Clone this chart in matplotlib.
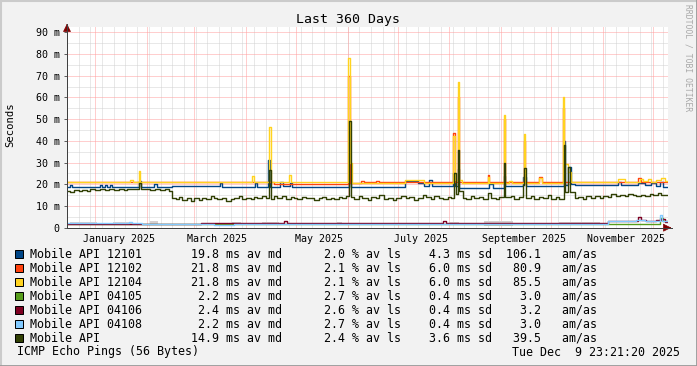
import matplotlib.pyplot as plt
from matplotlib.patches import Rectangle
from matplotlib.lines import Line2D
from datetime import datetime, timedelta

# time range: 360 days up to the render date
end = datetime(2025, 12, 9, 23, 21, 20)
start = end - timedelta(days=360)

# values in ms, x in days since start (step breakpoints)
api_days = [0, 2, 4, 7, 9, 12, 14, 17, 20, 23, 25, 28, 31, 34, 36, 39, 43, 44.5, 47, 50, 53, 56, 59, 61,
            63, 65, 67, 69, 72, 74, 76, 79, 81, 83, 86, 88, 90, 93, 95, 98, 100, 103, 105, 107, 110, 112, 114, 117, 119,
            121, 122, 124, 126, 129, 131, 134, 136, 138, 141, 143, 146, 148, 151, 153, 155, 158, 160, 163, 165, 167,
            169, 170, 172, 175, 177, 180, 182, 185, 187, 190, 192, 195, 197, 200, 203, 205, 208, 210, 213, 215, 218, 220, 223, 225, 228, 230,
            232, 233, 234, 235, 237, 239, 242, 244, 247, 249, 252, 254, 257, 259,
            261.5, 262.5, 266, 268, 271, 273, 274, 275, 278, 280, 283, 285, 288, 290, 293, 295,
            297.5, 298.5, 300, 301, 304, 306, 309, 311, 314, 316, 319, 321, 324, 326, 329, 331, 334, 336, 339, 341, 344, 346, 349, 351, 354, 356, 358, 360]
api_ms = [17.0, 16.4, 17.2, 16.8, 17.4, 16.9, 17.6, 17.2, 17.8, 17.3, 17.9, 17.5, 17.8, 17.4, 17.9, 17.6, 20.6, 17.6, 17.9, 17.3, 18.0, 17.4, 17.8, 16.9,
          13.8, 13.2, 14.0, 12.6, 13.5, 12.4, 13.9, 12.8, 13.6, 13.1, 14.4, 13.6, 13.0, 13.9, 12.5, 13.4, 13.8, 14.6, 13.2, 13.9, 13.4, 14.2, 13.6, 14.8, 13.9,
          26.6, 13.0, 14.8, 13.9, 14.5, 13.2, 14.1, 13.6, 13.1, 14.3, 13.5, 13.9, 12.8, 13.7, 14.2, 13.3, 13.9, 13.0, 14.0, 13.5, 14.4,
          49.0, 14.1, 13.2, 14.5, 13.6, 12.8, 14.0, 13.5, 14.9, 13.3, 13.9, 12.6, 13.8, 14.6, 13.5, 14.3, 12.9, 13.7, 15.1, 14.0, 13.4, 14.6, 13.8, 13.1, 14.2, 13.6,
          25.0, 15.5, 36.0, 17.0, 13.8, 13.1, 14.4, 13.6, 14.0, 13.2, 16.0, 13.9, 13.4, 14.1,
          30.0, 14.0, 14.6, 13.2, 14.0, 19.7, 27.4, 13.8, 14.8, 13.2, 14.3, 13.7, 14.9, 13.4, 14.0, 13.1,
          38.0, 16.6, 28.0, 16.6, 13.5, 14.2, 13.2, 14.6, 13.8, 14.5, 13.9, 14.8, 14.1, 15.3, 14.4, 15.0, 14.6, 15.6, 15.0, 14.5, 15.2, 14.8, 15.4, 14.9, 15.8, 15.1, 14.9, 14.9]

a12101_days = [0, 1.5, 3, 19.5, 21, 22.8, 24, 25.8, 27, 43, 44.5, 52, 54, 63, 91.5, 93, 112.5, 114, 120.5, 121.5,
               127.5, 129.5, 133.5, 135, 169, 170, 202.5, 210, 214, 217, 218.5, 231.5, 232.5, 234, 235,
               253, 255, 261.5, 262.5, 273, 275, 297.5, 298.5, 300, 302, 304.5, 330, 332, 342, 346, 350, 353, 355, 357, 360]
a12101_ms = [18.9, 19.7, 18.9, 19.7, 18.9, 19.7, 18.9, 19.7, 18.9, 21.5, 18.9, 20.0, 18.9, 19.2, 20.5, 18.9, 20.4, 18.9, 31.0, 18.9,
             21.2, 19.2, 20.5, 18.9, 25.0, 18.9, 21.5, 20.5, 19.4, 22.0, 19.4, 25.0, 19.4, 27.0, 18.2,
             20.0, 18.2, 24.0, 19.3, 23.5, 19.3, 40.0, 19.5, 28.0, 20.0, 19.7, 21.2, 19.7, 20.8, 19.5, 20.5, 19.3, 21.0, 18.9, 18.9]

a12102_days = [0, 124, 168.5, 169.5, 176, 178, 185, 187, 231.5, 232.5, 234, 235, 236.5, 252, 253,
               261.5, 262.5, 273.5, 274.5, 282.5, 284.5, 297, 298, 342, 344, 360]
a12102_ms = [20.9, 20.3, 70.0, 20.6, 21.4, 20.9, 21.4, 20.9, 43.5, 21.0, 60.0, 21.0, 20.9, 24.3, 20.9,
             50.0, 20.9, 40.0, 20.9, 23.2, 20.9, 55.0, 20.9, 23.0, 20.9, 20.9]

a12104_days = [0, 38, 39.5, 43, 44, 111, 112, 121, 122, 133, 134, 168.5, 169.5, 170.5, 202.5, 214,
               231.5, 232.5, 234, 235, 236.5, 252, 253, 261.5, 262.5, 265, 266.5, 273.5, 274.5, 282.5, 284.5,
               297, 298, 300, 302, 330, 334, 343, 345, 348, 350, 353, 356, 358, 360]
a12104_ms = [20.9, 22.0, 20.9, 26.0, 20.9, 24.0, 20.9, 46.4, 20.9, 24.3, 20.9, 78.0, 30.0, 20.8, 21.8, 20.8,
             42.0, 22.0, 67.0, 22.0, 20.8, 23.5, 20.8, 52.0, 20.8, 21.5, 20.8, 43.0, 20.8, 22.7, 20.8,
             60.0, 29.5, 25.8, 20.9, 22.4, 20.9, 22.5, 21.6, 22.2, 21.0, 22.0, 22.8, 21.6, 21.6]

a04105_days = [0, 88, 100, 355, 357, 360]
a04105_ms = [1.9, 1.6, 1.9, 4.5, 2.9, 2.9]

a04106_days = [0, 80, 130, 132, 225, 227, 324, 342, 344, 347, 350, 353, 356, 358, 360]
a04106_ms = [1.9, 2.3, 3.3, 2.3, 3.3, 2.3, 2.9, 5.0, 3.5, 3.3, 3.1, 3.6, 4.0, 2.7, 2.7]

a04108_days = [0, 37, 39, 45, 88, 100, 324, 338, 341, 346, 350, 355, 356.5, 360]
a04108_ms = [2.0, 2.8, 2.0, 1.6, 1.3, 1.6, 2.9, 3.2, 3.6, 3.0, 3.3, 5.8, 3.0, 3.0]

# faint grey patches near the bottom
smoke_start = [2, 27.5, 50, 99, 117, 162, 229, 250, 295]
smoke_end = [18, 38, 54.5, 104, 127, 165, 235, 267, 319]
smoke_lo = [1.4, 1.4, 1.2, 1.3, 1.4, 1.4, 1.3, 1.0, 1.2]
smoke_hi = [2.6, 2.6, 3.0, 2.5, 2.6, 2.6, 2.6, 2.9, 2.7]

labels = ["Mobile API 12101", "Mobile API 12102", "Mobile API 12104", "Mobile API 04105",
          "Mobile API 04106", "Mobile API 04108", "Mobile API"]
colors = ["#004586", "#ff420e", "#ffd320", "#579d1c", "#7e0021", "#83caff", "#314004"]
med = [19.8, 21.8, 21.8, 2.2, 2.4, 2.2, 14.9]
loss = [2.0, 2.1, 2.1, 2.7, 2.6, 2.7, 2.4]
sdev = [4.3, 6.0, 6.0, 0.4, 0.4, 0.4, 3.6]
amas = [106.1, 80.9, 85.5, 3.0, 3.2, 3.0, 39.5]

series = [(a12101_days, a12101_ms), (a12102_days, a12102_ms), (a12104_days, a12104_ms),
          (a04105_days, a04105_ms), (a04106_days, a04106_ms), (a04108_days, a04108_ms),
          (api_days, api_ms)]

W, H = 697, 366
mono = "DejaVu Sans Mono"
fig = plt.figure(figsize=(W / 100, H / 100), dpi=100, facecolor="#f2f2f2")

# plot area in pixels: x 67..668, y 27..227.7
x0, x1, ytop, ybot = 67, 668, 27, 227.7
ax = fig.add_axes([x0 / W, 1 - ybot / H, (x1 - x0) / W, (ybot - ytop) / H])
ax.set_facecolor("white")
ymax = 92.4
ax.set_xlim(0, 360)
ax.set_ylim(0, ymax)
for s in ax.spines.values():
    s.set_visible(False)

def dday(d):
    return (d - start).total_seconds() / 86400.0

# grid
grid_minor = "#d2d2d2"
grid_major = "#ff9f9f"
d = datetime(2024, 12, 15)
while d < end:
    ax.axvline(dday(d), color=grid_minor, lw=0.72, dashes=(1, 1), zorder=1)
    d += timedelta(days=7)
for v in range(5, 95, 10):
    ax.axhline(v, color=grid_minor, lw=0.72, dashes=(1, 1), zorder=1)
month_starts = [dday(datetime(2025, m, 1)) for m in range(1, 13)]
for m in month_starts:
    ax.axvline(m, color=grid_major, lw=0.72, dashes=(1, 1), zorder=2)
for v in range(10, 100, 10):
    ax.axhline(v, color=grid_major, lw=0.72, dashes=(1, 1), zorder=2)

for s0, s1, lo, hi in zip(smoke_start, smoke_end, smoke_lo, smoke_hi):
    ax.fill_between([s0, s1], lo, hi, color="#d6d0d0", lw=0, zorder=3)

for (xs, ys), c in zip(series, colors):
    ax.step(xs, ys, where="post", color=c, lw=1.0, zorder=4)

# ticks and labels
ax.set_yticks(range(0, 100, 10))
ax.set_yticklabels(["0"] + ["%d m" % v for v in range(10, 100, 10)], family=mono, fontsize=7.2)
lab_months = [1, 3, 5, 7, 9, 11]
ax.set_xticks([dday(datetime(2025, m, 15)) for m in lab_months])
ax.set_xticklabels([datetime(2025, m, 1).strftime("%B %Y") for m in lab_months], family=mono, fontsize=7.2)
ax.tick_params(axis="x", length=0, pad=4.5)
ax.tick_params(axis="y", length=2, width=0.72, color="#606060", pad=3.2)

# axes with arrows
fig.add_artist(Line2D([x0 / W, 672 / W], [1 - ybot / H] * 2, color="#404040", lw=0.72))
fig.add_artist(Line2D([x0 / W] * 2, [1 - ybot / H, 1 - 24 / H], color="#404040", lw=0.72))
ax.annotate("", xy=(674 / W, 1 - ybot / H), xytext=(667 / W, 1 - ybot / H), xycoords="figure fraction",
            arrowprops=dict(arrowstyle="-|>,head_length=0.5,head_width=0.25", color="#800000", lw=0.5))
ax.annotate("", xy=(x0 / W, 1 - 21 / H), xytext=(x0 / W, 1 - 28 / H), xycoords="figure fraction",
            arrowprops=dict(arrowstyle="-|>,head_length=0.5,head_width=0.25", color="#800000", lw=0.5))

fig.text(348 / W, 1 - 19 / H, "Last 360 Days", family=mono, fontsize=9.5, ha="center", va="center")
fig.text(10 / W, 1 - 125 / H, "Seconds", family=mono, fontsize=7.6, rotation=90, ha="center", va="center")
fig.text(688 / W, 1 - 4 / H, "RRDTOOL / TOBI OETIKER", family=mono, fontsize=5.8, rotation=270,
         ha="center", va="top", color="#a8a8a8")

# legend
for i, lab in enumerate(labels):
    yc = 254 + 14 * i
    fig.add_artist(Rectangle((15 / W, 1 - (yc + 4) / H), 8 / W, 8 / H, facecolor=colors[i],
                             edgecolor="black", lw=0.72, transform=fig.transFigure))
    row = f"{lab:<16}{med[i]:>11.1f} ms av md{loss[i]:>9.1f} % av ls{sdev[i]:>7.1f} ms sd{amas[i]:>7.1f}   am/as"
    fig.text(30 / W, 1 - yc / H, row, family=mono, fontsize=8.4, va="center", ha="left")
fig.text(17 / W, 1 - 352 / H, "ICMP Echo Pings (56 Bytes)", family=mono, fontsize=8.4, va="center")
fig.text(680 / W, 1 - 352 / H, end.strftime("%a %b %e %H:%M:%S %Y"), family=mono, fontsize=8.4,
         va="center", ha="right")

# 3d border
fig.add_artist(Line2D([0, 1], [1 - 0.5 / H] * 2, color="#cbcbcb", lw=1.5))
fig.add_artist(Line2D([0.5 / W] * 2, [0, 1], color="#cbcbcb", lw=1.5))
fig.add_artist(Line2D([0, 1], [0.5 / H] * 2, color="#999999", lw=2))
fig.add_artist(Line2D([1 - 0.5 / W] * 2, [0, 1], color="#999999", lw=2))

fig.savefig("out.png", dpi=100, facecolor=fig.get_facecolor())
